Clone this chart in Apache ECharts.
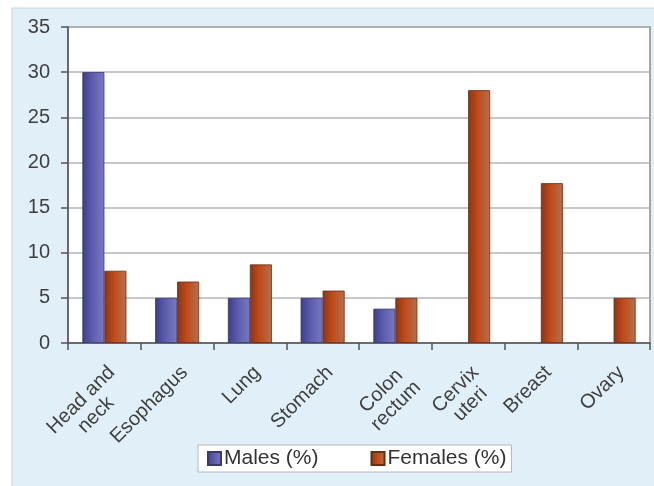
<!DOCTYPE html>
<html>
<head>
<meta charset="utf-8">
<script src="https://cdn.jsdelivr.net/npm/echarts@6/dist/echarts.min.js"></script>
<style>
  html, body { margin: 0; padding: 0; background: #ffffff; }
  #chart { width: 654px; height: 486px; }
</style>
</head>
<body>
<div id="chart"></div>
<script>
// Cancer sites and share of cases by sex (null = no male cases for that site)
const categories = ['Head and\nneck', 'Esophagus', 'Lung', 'Stomach', 'Colon\nrectum', 'Cervix\nuteri', 'Breast', 'Ovary'];
const males = [30, 5, 5, 5, 3.8, null, null, null];
const females = [8, 6.8, 8.7, 5.8, 5, 28, 17.7, 5];
const yTicks = [0, 5, 10, 15, 20, 25, 30, 35];
const seriesNames = ['Males (%)', 'Females (%)'];

const FONT = 'Liberation Sans, Arial, sans-serif';

function barGradient(dark, mid, light) {
  return new echarts.graphic.LinearGradient(0, 0, 1, 0, [
    { offset: 0, color: dark },
    { offset: 0.45, color: mid },
    { offset: 1, color: light }
  ]);
}

const chart = echarts.init(document.getElementById('chart'), null, { renderer: 'canvas' });

chart.setOption({
  animation: false,
  backgroundColor: '#ffffff',
  graphic: [
    {
      type: 'rect',
      z: -10,
      shape: { x: 12, y: 8, width: 660, height: 490 },
      style: { fill: '#e1eff9', stroke: '#c9d6df', lineWidth: 1 }
    },
    {
      type: 'rect',
      z: -5,
      shape: { x: 68, y: 27, width: 582, height: 316 },
      style: { fill: '#ffffff', stroke: '#8a8a8a', lineWidth: 1.5 }
    }
  ],
  grid: { left: 68, right: 4, top: 27, bottom: 143, containLabel: false },
  legend: {
    data: seriesNames,
    left: 198,
    top: 445,
    itemWidth: 13,
    itemHeight: 13,
    itemGap: 52,
    padding: [3, 5, 3, 9],
    backgroundColor: '#ffffff',
    borderColor: '#b8b8b8',
    borderWidth: 1,
    icon: 'rect',
    textStyle: { fontFamily: FONT, fontSize: 21, color: '#333333', padding: [0, 0, 0, -2] }
  },
  xAxis: {
    type: 'category',
    data: categories,
    boundaryGap: true,
    axisLine: { lineStyle: { color: '#555555', width: 1.5 } },
    axisTick: { show: true, alignWithLabel: false, length: 7, inside: false, lineStyle: { color: '#555555', width: 1.5 } },
    axisLabel: {
      interval: 0,
      rotate: 45,
      margin: 19,
      verticalAlign: 'top',
      fontFamily: FONT,
      fontSize: 20,
      color: '#3f3f3f',
      lineHeight: 21,
      formatter: function (v) {
        return v.split('\n').map(function (s) { return '{c|' + s + '}'; }).join('\n');
      },
      rich: {
        c: { align: 'center', fontFamily: FONT, fontSize: 20, lineHeight: 21, color: '#3f3f3f' }
      }
    }
  },
  yAxis: {
    type: 'value',
    min: 0,
    max: 35,
    interval: 5,
    axisLine: { show: true, lineStyle: { color: '#555555', width: 1.5 } },
    axisTick: { show: true, length: 7, lineStyle: { color: '#555555', width: 1.5 } },
    splitLine: { show: true, lineStyle: { color: '#b5b5b5', width: 1.5 } },
    axisLabel: {
      margin: 18,
      fontFamily: FONT,
      fontSize: 20,
      color: '#3f3f3f',
      formatter: function (v) { return yTicks.indexOf(v) >= 0 ? String(v) : ''; }
    }
  },
  series: [
    {
      name: seriesNames[0],
      type: 'bar',
      data: males,
      barWidth: 22,
      barGap: '0%',
      itemStyle: {
        color: barGradient('#3d3d8c', '#5c5cae', '#7a7ac0'),
        borderColor: '#3a3a70',
        borderWidth: 0.8
      }
    },
    {
      name: seriesNames[1],
      type: 'bar',
      data: females,
      barWidth: 22,
      barGap: '0%',
      itemStyle: {
        color: barGradient('#8e3412', '#c14b1b', '#b07252'),
        borderColor: '#6e2a10',
        borderWidth: 0.8
      }
    }
  ]
});
</script>
</body>
</html>
